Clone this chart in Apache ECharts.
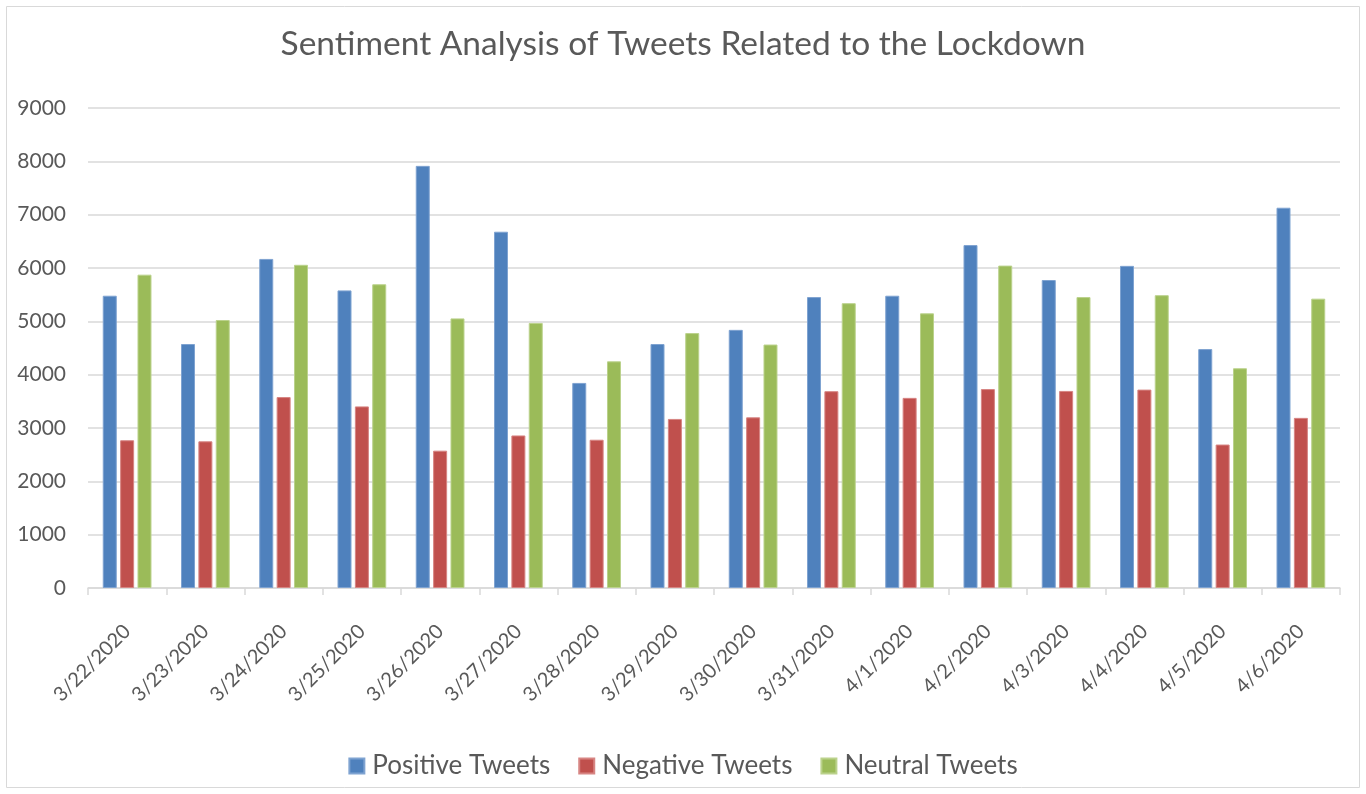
<!DOCTYPE html>
<html><head><meta charset="utf-8">
<script src="https://cdn.jsdelivr.net/npm/echarts@6/dist/echarts.min.js"></script>
<style>html,body{margin:0;padding:0;background:#fff}#c{width:1366px;height:794px}</style>
</head><body><div id="c"></div>
<script>
var categories = ['3/22/2020','3/23/2020','3/24/2020','3/25/2020','3/26/2020','3/27/2020','3/28/2020','3/29/2020','3/30/2020','3/31/2020','4/1/2020','4/2/2020','4/3/2020','4/4/2020','4/5/2020','4/6/2020'];
var positive = [5480, 4575, 6170, 5580, 7915, 6680, 3845, 4575, 4840, 5455, 5480, 6430, 5775, 6040, 4480, 7130];
var negative = [2770, 2750, 3580, 3405, 2575, 2860, 2780, 3170, 3200, 3690, 3565, 3730, 3695, 3720, 2690, 3190];
var neutral  = [5875, 5025, 6060, 5695, 5055, 4970, 4250, 4780, 4565, 5340, 5150, 6045, 5455, 5490, 4120, 5425];
var seriesNames = ['Positive Tweets','Negative Tweets','Neutral Tweets'];
var yTicks = {min: 0, max: 9000, interval: 1000};

var font = 'Lato, "Open Sans", sans-serif';
var chart = echarts.init(document.getElementById('c'));
function mk(name, data, color, border) {
  return {name: name, type: 'bar', data: data, barWidth: 14, barGap: '24%',
    itemStyle: {color: color, borderColor: border, borderWidth: 1}};
}
chart.setOption({
  animation: false,
  graphic: [{type: 'rect', shape: {x: 6.5, y: 6.5, width: 1353, height: 781},
    style: {fill: 'none', stroke: '#D9D9D9', lineWidth: 1}}],
  title: {text: 'Sentiment Analysis of Tweets Related to the Lockdown', left: 'center', top: 22,
    textStyle: {fontFamily: font, fontSize: 33.5, fontWeight: 'normal', color: '#595959'}},
  legend: {bottom: 10, left: 'center', itemWidth: 15, itemHeight: 15, itemGap: 28, icon: 'rect',
    textStyle: {fontFamily: font, fontSize: 26, color: '#595959', padding: [0, 0, 0, 3]}, data: seriesNames},
  grid: {left: 88, right: 26, top: 108, bottom: 206, containLabel: false},
  xAxis: {type: 'category', data: categories,
    axisLine: {lineStyle: {color: '#D9D9D9', width: 1.5}},
    axisTick: {show: true, length: 7, lineStyle: {color: '#D9D9D9', width: 1.5}},
    axisLabel: {rotate: 45, fontFamily: font, fontSize: 20, color: '#595959', margin: 40,
      padding: [20, 0, 0, 0], interval: 0}},
  yAxis: {type: 'value', min: yTicks.min, max: yTicks.max, interval: yTicks.interval,
    axisLine: {show: false}, axisTick: {show: false},
    splitLine: {lineStyle: {color: '#D9D9D9', width: 1.5}},
    axisLabel: {fontFamily: font, fontSize: 21, color: '#595959', margin: 22,
      formatter: function (v) { return String(v); }}},
  series: [
    mk(seriesNames[0], positive, '#4F81BD', '#7FA3D1'),
    mk(seriesNames[1], negative, '#C0504D', '#D78583'),
    mk(seriesNames[2], neutral, '#9BBB59', '#BBD28C')
  ]
});
</script></body></html>
